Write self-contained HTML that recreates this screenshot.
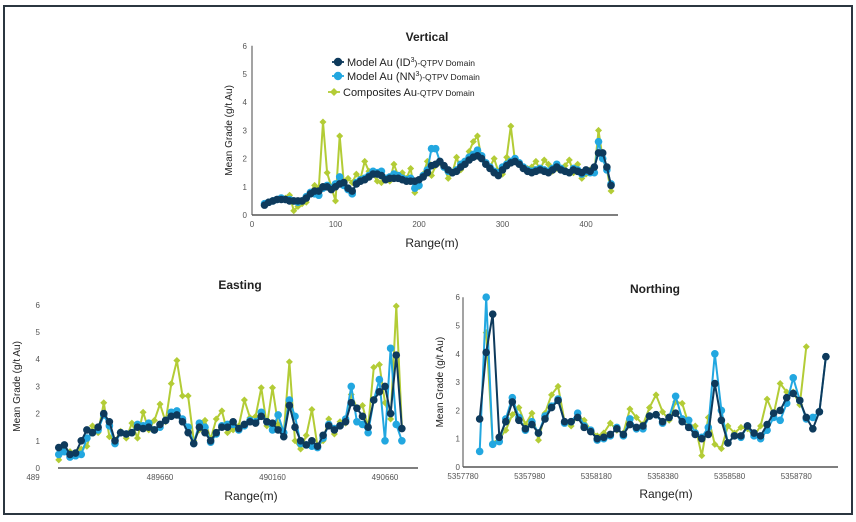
<!DOCTYPE html>
<html><head><meta charset="utf-8">
<style>
html,body{margin:0;padding:0;background:#fff;}
body{width:856px;height:522px;position:relative;overflow:hidden;font-family:"Liberation Sans",sans-serif;}
#frame{position:absolute;left:3px;top:5px;width:846px;height:506px;border:2px solid #2b3640;box-sizing:content-box;}
svg{position:absolute;left:0;top:0;}
</style></head>
<body>
<div id="frame"></div>
<svg id="chart" width="856" height="522"></svg>
<script>
// ---------- Vertical data (x = 15 + 5*i) ----------
const vStart = 15, vStep = 5;
const vId3 = [0.35,0.45,0.5,0.55,0.55,0.55,0.5,0.5,0.5,0.5,0.6,0.75,0.85,0.85,1.0,1.0,0.9,1.0,1.1,1.15,0.95,0.85,1.1,1.2,1.25,1.35,1.45,1.45,1.4,1.25,1.3,1.3,1.3,1.25,1.2,1.2,1.2,1.25,1.35,1.5,1.75,1.8,1.9,1.75,1.6,1.5,1.55,1.7,1.8,1.95,2.05,2.1,2.0,1.8,1.65,1.5,1.4,1.6,1.75,1.85,1.9,1.8,1.65,1.55,1.5,1.55,1.6,1.55,1.5,1.6,1.7,1.6,1.55,1.5,1.6,1.55,1.5,1.6,1.55,1.7,2.2,2.2,1.7,1.05];
const vNn3 = [0.4,0.45,0.5,0.55,0.6,0.55,0.55,0.5,0.45,0.5,0.65,0.8,0.75,0.7,0.95,1.05,0.95,1.1,1.35,1.05,0.9,0.75,1.15,1.25,1.3,1.4,1.55,1.5,1.55,1.3,1.35,1.45,1.4,1.3,1.25,1.3,0.95,1.05,1.4,1.6,2.35,2.35,1.9,1.7,1.55,1.5,1.6,1.8,1.9,2.05,2.15,2.3,2.1,1.85,1.7,1.55,1.5,1.7,1.8,1.9,2.0,1.85,1.7,1.6,1.55,1.6,1.65,1.6,1.55,1.65,1.8,1.65,1.55,1.5,1.65,1.6,1.45,1.55,1.5,1.5,2.6,2.0,1.6,1.1];
const vComp = [0.4,0.45,0.5,0.55,0.55,0.6,0.7,0.15,0.3,0.4,0.45,0.8,1.05,0.95,3.3,1.5,1.0,0.5,2.8,1.1,1.3,1.15,1.45,1.3,1.9,1.55,1.45,1.2,1.15,1.3,1.2,1.8,1.4,1.5,1.3,1.65,0.8,1.0,1.45,1.9,1.4,1.75,1.85,1.7,1.3,1.5,2.05,1.6,1.8,2.25,2.6,2.8,2.0,1.85,1.7,2.0,1.55,1.45,2.05,3.15,1.9,1.8,1.7,1.65,1.7,1.9,1.6,1.95,1.8,1.55,1.65,1.6,1.75,1.95,1.5,1.8,1.3,1.45,1.6,1.5,3.0,2.0,1.6,0.85];
const vXTicks = [0,100,200,300,400];
const yTicks = [0,1,2,3,4,5,6];

// ---------- Easting data (x = 489210 + 25*i) ----------
const eStart = 489210, eStep = 25;
const eId3 = [0.75,0.85,0.5,0.55,1.0,1.4,1.3,1.5,2.0,1.7,1.0,1.3,1.25,1.3,1.5,1.45,1.5,1.4,1.6,1.75,1.9,1.95,1.7,1.3,0.9,1.5,1.3,1.0,1.3,1.5,1.5,1.7,1.45,1.6,1.7,1.65,1.9,1.7,1.65,1.4,1.15,2.3,1.5,1.0,0.85,1.0,0.8,1.2,1.55,1.4,1.55,1.7,2.4,2.2,1.9,1.5,2.5,2.8,3.0,2.0,4.15,1.45];
const eNn3 = [0.5,0.6,0.4,0.45,0.5,1.1,1.3,1.4,1.95,1.55,0.9,1.3,1.25,1.3,1.6,1.55,1.65,1.4,1.5,1.75,2.05,2.1,1.8,1.5,0.9,1.65,1.5,0.95,1.25,1.55,1.6,1.6,1.4,1.55,1.75,1.7,2.05,1.7,1.4,1.95,1.3,2.5,1.9,0.9,0.85,0.8,0.75,1.1,1.6,1.45,1.55,1.8,3.0,1.7,1.6,1.3,2.5,3.25,1.0,4.4,1.6,1.0];
const eComp = [0.3,0.7,0.6,0.5,0.7,0.8,1.55,1.3,2.4,1.15,1.0,1.35,1.1,1.65,1.1,2.05,1.4,1.75,2.35,1.7,3.1,3.95,2.65,2.65,1.0,1.4,1.75,1.05,1.8,2.1,1.3,1.4,1.55,2.5,1.85,1.9,2.95,1.55,2.95,1.6,1.3,3.9,1.0,0.7,1.2,2.15,0.8,1.0,1.8,1.25,1.7,1.65,2.7,2.2,2.3,1.5,3.7,3.8,2.4,1.8,5.95,1.5];
const eXTicks = [489660,490160,490660];

// ---------- Northing data (x = 5357830 + 19.6*i) ----------
const nStart = 5357830, nStep = 19.6;
const nId3 = [1.7,4.05,5.4,1.05,1.6,2.3,1.65,1.35,1.5,1.2,1.7,2.1,2.35,1.6,1.6,1.75,1.4,1.25,1.0,1.05,1.15,1.35,1.15,1.5,1.4,1.45,1.8,1.85,1.6,1.75,1.9,1.6,1.4,1.15,1.0,1.15,2.95,1.65,0.85,1.1,1.1,1.45,1.2,1.1,1.5,1.9,2.0,2.45,2.6,2.35,1.75,1.35,1.95,3.9];
const nNn3 = [0.55,6.0,0.8,0.9,1.7,2.45,1.75,1.3,1.6,1.2,1.8,2.15,2.4,1.55,1.6,1.9,1.45,1.3,0.95,1.0,1.1,1.4,1.1,1.7,1.35,1.35,1.8,1.85,1.55,1.75,2.5,1.7,1.65,1.2,1.05,1.4,4.0,2.0,0.85,1.1,1.05,1.45,1.1,1.0,1.3,1.75,1.65,2.25,3.15,2.35,1.7,1.75,1.95,3.9];
const nComp = [null,4.75,0.85,1.0,1.3,1.85,2.1,1.5,1.9,0.95,1.9,2.55,2.85,1.6,1.45,1.8,1.65,1.3,1.1,1.2,1.55,1.3,1.2,2.05,1.75,1.5,2.1,2.55,1.95,1.65,2.3,2.25,1.5,1.45,0.4,1.75,0.8,0.65,1.45,1.2,1.4,1.35,1.1,1.45,2.4,1.85,2.95,2.65,2.65,2.2,4.25];
const nXTicks = [5357780,5357980,5358180,5358380,5358580,5358780];

const NS='http://www.w3.org/2000/svg';
const svg=document.getElementById('chart');
const C_ID='#0e3a5c', C_NN='#22a7e0', C_CO='#b3cc36';
function mk(tag,attrs,parent){const e=document.createElementNS(NS,tag);for(const k in attrs)e.setAttribute(k,attrs[k]);(parent||svg).appendChild(e);return e;}
function txt(x,y,s,size,opts,parent){const t=mk('text',Object.assign({x:x,y:y,'font-size':size,'font-family':'Liberation Sans, sans-serif',fill:'#222'},opts||{}),parent);t.textContent=s;return t;}

function chart(cfg){
  const g=mk('g',{});
  
  
  const sx=v=>cfg.px0+(v-cfg.x0)*cfg.kx;
  const sy=v=>cfg.py0-(Math.min(v,6))*cfg.ky;
  const t=txt(cfg.titleX,cfg.titleY,cfg.title,12,{'font-weight':'bold','text-anchor':'middle'},g);
  
  
  if(cfg.yLine){const yl=mk('line',{x1:cfg.px0,y1:sy(6),x2:cfg.px0,y2:cfg.py0,stroke:'#666','stroke-width':1.2},g);
    }
  const xl=mk('line',{x1:cfg.axisX1,y1:cfg.py0,x2:cfg.axisX2,y2:cfg.py0,stroke:'#555','stroke-width':1.4},g);
  
  yTicks.forEach(v=>{const l=txt(cfg.yLabX,sy(v)+3,String(v),8,{'text-anchor':'end',fill:'#555'},g);
    });
  cfg.xTicks.forEach(v=>{const l=txt(sx(v),cfg.py0+12,String(v),8,{'text-anchor':'middle',fill:'#555'},g);
    });
  if(cfg.extraTick){const l=txt(cfg.extraTick[0],cfg.py0+12,cfg.extraTick[1],8,{'text-anchor':'middle',fill:'#555'},g);
    }
  const yt=txt(0,0,'Mean Grade (g/t Au)',10,{'text-anchor':'middle',transform:'translate('+cfg.yTitleX+','+(cfg.py0-3*cfg.ky)+') rotate(-90)'},g);
  
  const xt=txt(cfg.xTitleX,cfg.xTitleY,'Range(m)',12,{'text-anchor':'middle'},g);
  
  const series=[[cfg.comp,C_CO,'composites'],[cfg.nn,C_NN,'model-nn3'],[cfg.id,C_ID,'model-id3']];
  series.forEach(([vals,col,nm])=>{
    let d='';let pen=false;
    vals.forEach((v,i)=>{if(v===null){pen=false;return;}const X=sx(cfg.start+cfg.step*i),Y=sy(v);d+=(pen?'L':'M')+X.toFixed(1)+' '+Y.toFixed(1);pen=true;});
    const p=mk('path',{d:d,fill:'none',stroke:col,'stroke-width':2,'stroke-linejoin':'round'},g);
    
    vals.forEach((v,i)=>{if(v===null)return;const X=sx(cfg.start+cfg.step*i),Y=sy(v);
      let m;
      if(nm==='composites'){m=mk('path',{d:'M'+X+' '+(Y-3.5)+'L'+(X+3.5)+' '+Y+'L'+X+' '+(Y+3.5)+'L'+(X-3.5)+' '+Y+'Z',fill:col},g);}
      else{m=mk('circle',{cx:X,cy:Y,r:3.8,fill:col},g);}
      
      
    });
  });
}

chart({name:'vertical-chart',title:'Vertical',titleX:427,titleY:41,x0:0,px0:252,kx:0.835,py0:215,ky:28.2,
  yLine:true,axisX1:252,axisX2:618,yLabX:247,xTicks:vXTicks,yTitleX:232,xTitleX:432,xTitleY:247,
  start:vStart,step:vStep,id:vId3,nn:vNn3,comp:vComp});
chart({name:'easting-chart',title:'Easting',titleX:240,titleY:289,x0:489660,px0:160,kx:0.225,py0:468,ky:27.2,
  yLine:false,axisX1:58,axisX2:418,yLabX:40,xTicks:eXTicks,extraTick:[33,'489'],yTitleX:20,xTitleX:251,xTitleY:500,
  start:eStart,step:eStep,id:eId3,nn:eNn3,comp:eComp});
chart({name:'northing-chart',title:'Northing',titleX:655,titleY:293,x0:5357780,px0:463,kx:0.3333,py0:467,ky:28.3,
  yLine:true,axisX1:463,axisX2:838,yLabX:460,xTicks:nXTicks,yTitleX:443,xTitleX:666,xTitleY:498,
  start:nStart,step:nStep,id:nId3,nn:nNn3,comp:nComp});

const lg=mk('g',{});


const entries=[[C_ID,'Model Au (ID','3',')-QTPV Domain',347,66,'circle'],[C_NN,'Model Au (NN','3',')-QTPV Domain',347,80,'circle'],[C_CO,'Composites Au','','-QTPV Domain',343,96,'diamond']];
entries.forEach(([col,a,sup,b,x,y,shape])=>{
  const mx=x-9;
  const ln=mk('line',{x1:mx-6,y1:y-4,x2:mx+6,y2:y-4,stroke:col,'stroke-width':1.8},lg);
  
  let m;
  if(shape==='circle')m=mk('circle',{cx:mx,cy:y-4,r:4.2,fill:col},lg);
  else m=mk('path',{d:'M'+mx+' '+(y-8)+'L'+(mx+4)+' '+(y-4)+'L'+mx+' '+y+'L'+(mx-4)+' '+(y-4)+'Z',fill:col},lg);
  
  const t=mk('text',{x:x,y:y,'font-size':11,'font-family':'Liberation Sans, sans-serif',fill:'#222'},lg);
  
  const s1=mk('tspan',{},t);s1.textContent=a;
  if(sup){const s2=mk('tspan',{'font-size':7,dy:-4},t);s2.textContent=sup;}
  const s3=mk('tspan',{'font-size':8.5,dy:sup?4:0},t);s3.textContent=b;
});
</script>
</body></html>
